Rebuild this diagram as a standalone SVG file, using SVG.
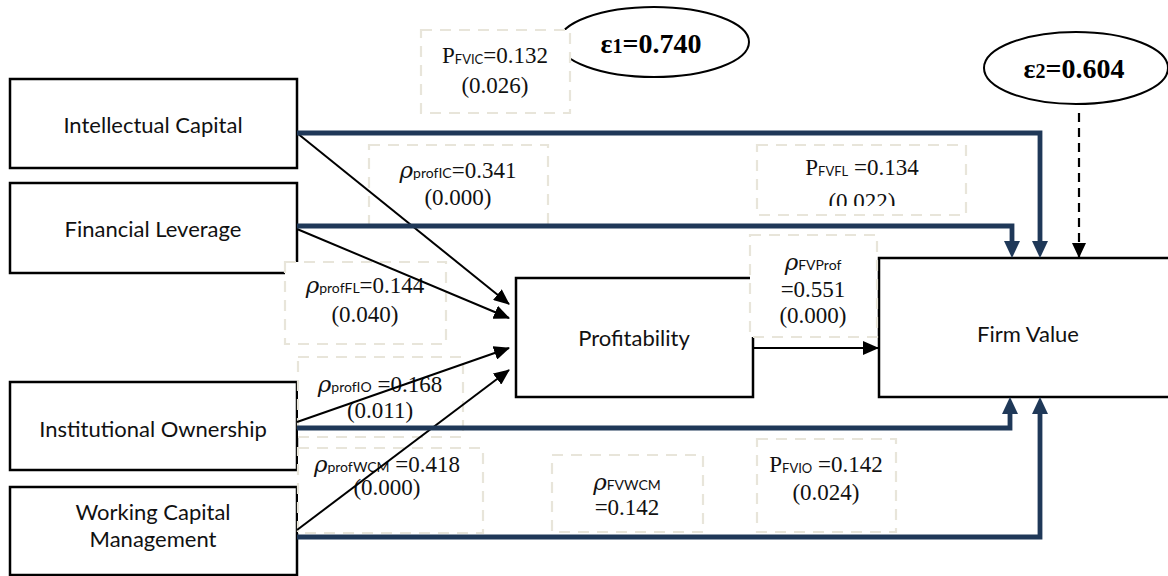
<svg xmlns="http://www.w3.org/2000/svg" width="1168" height="576" viewBox="0 0 1168 576">
<style>
.node{fill:#fff;stroke:#000;stroke-width:2.5}
.nt{font-family:Lato,"Open Sans",sans-serif;font-size:22px;fill:#111;text-anchor:middle}
.lab{fill:#fff;stroke:#e8e5da;stroke-width:2.2;stroke-dasharray:11 8}
.v{font-family:"Liberation Serif",serif;font-size:23px;fill:#111;text-anchor:middle}
.s{font-family:Lato,"Open Sans",sans-serif;font-size:13px}
.sr{font-family:Lato,"Open Sans",sans-serif;font-size:14px}
.rho{font-family:"DejaVu Serif","Liberation Serif",serif;font-style:italic;font-size:23px}
.thin{fill:none;stroke:#000;stroke-width:2;marker-end:url(#blk)}
.navy{fill:none;stroke:#1f3858;stroke-width:4.8;marker-end:url(#nav)}
.eps{fill:#fff;stroke:#000;stroke-width:2}
.et{font-family:"Liberation Serif",serif;font-weight:bold;font-size:28px;fill:#000;text-anchor:middle}
</style>
<defs>
<marker id="blk" markerUnits="userSpaceOnUse" markerWidth="16" markerHeight="14" viewBox="0 0 16 14" refX="15" refY="7" orient="auto"><path d="M0,0 L16,7 L0,14 z" fill="#000"/></marker>
<marker id="nav" markerUnits="userSpaceOnUse" markerWidth="18" markerHeight="16" viewBox="0 0 18 16" refX="0" refY="8" orient="auto"><path d="M0,0 L17,8 L0,16 z" fill="#1f3858"/></marker>
<marker id="dsh" markerUnits="userSpaceOnUse" markerWidth="15" markerHeight="14" viewBox="0 0 15 14" refX="14" refY="7" orient="auto"><path d="M0,0 L15,7 L0,14 z" fill="#000"/></marker>
<clipPath id="clipFL"><rect x="740" y="140" width="240" height="66"/></clipPath>
</defs>
<rect width="1168" height="576" fill="#fff"/>

<g id="node-ic"><rect class="node" x="10" y="79" width="287" height="89"/><text class="nt" x="153" y="133">Intellectual Capital</text></g>
<g id="node-fl"><rect class="node" x="10" y="183" width="287" height="90"/><text class="nt" x="153" y="237">Financial Leverage</text></g>
<g id="node-io"><rect class="node" x="10" y="382" width="287" height="88"/><text class="nt" x="153" y="437">Institutional Ownership</text></g>
<g id="node-wcm"><rect class="node" x="10" y="487" width="287" height="88"/><text class="nt" x="153" y="520">Working Capital</text><text class="nt" x="153" y="547">Management</text></g>
<g id="node-prof"><rect class="node" x="516" y="278" width="237" height="119"/><text class="nt" x="634" y="346">Profitability</text></g>
<g id="node-fv"><rect class="node" x="879" y="258" width="300" height="139"/><text class="nt" x="1028" y="342">Firm Value</text></g>
<g id="node-e1"><ellipse class="eps" cx="654" cy="42" rx="95" ry="35"/><text class="et" x="651" y="53">ε<tspan font-size="20">1</tspan>=0.740</text></g>
<g id="node-e2"><ellipse class="eps" cx="1076" cy="68" rx="92" ry="36"/><text class="et" x="1074" y="78">ε<tspan font-size="20">2</tspan>=0.604</text></g>

<g id="labels">
<g id="lab-fvic"><rect class="lab" x="421" y="30" width="149" height="83"/><text class="v" x="495" y="63">P<tspan class="s" dy="1">FVIC</tspan><tspan dy="-1">=0.132</tspan></text><text class="v" x="495" y="93">(0.026)</text></g>
<g id="lab-profic"><rect class="lab" x="369" y="145" width="179" height="80"/><text class="v" x="458" y="178"><tspan class="rho">ρ</tspan><tspan class="sr">profIC</tspan>=0.341</text><text class="v" x="458" y="205">(0.000)</text></g>
<g id="lab-fvfl"><rect class="lab" x="757" y="145" width="209" height="70"/><text class="v" x="862" y="175">P<tspan class="s" dy="1">FVFL</tspan><tspan dy="-1"> =0.134</tspan></text><text class="v" x="862" y="209" clip-path="url(#clipFL)">(0.022)</text></g>
<g id="lab-proffl"><rect class="lab" x="285" y="262" width="161" height="82"/><text class="v" x="365" y="293"><tspan class="rho">ρ</tspan><tspan class="sr">profFL</tspan>=0.144</text><text class="v" x="365" y="322">(0.040)</text></g>
<g id="lab-fvprof"><rect class="lab" x="750" y="235" width="127" height="102"/><text class="v" x="813" y="270"><tspan class="rho">ρ</tspan><tspan class="sr">FVProf</tspan></text><text class="v" x="813" y="297">=0.551</text><text class="v" x="813" y="323">(0.000)</text></g>
<g id="lab-profio"><rect class="lab" x="298" y="357" width="165" height="80"/><text class="v" x="380" y="392"><tspan class="rho">ρ</tspan><tspan class="sr">profIO</tspan> =0.168</text><text class="v" x="380" y="418">(0.011)</text></g>
<g id="lab-profwcm"><rect class="lab" x="298" y="448" width="185" height="85"/><text class="v" x="387" y="472"><tspan class="rho">ρ</tspan><tspan class="sr">profWCM</tspan> =0.418</text><text class="v" x="387" y="495">(0.000)</text></g>
<g id="lab-fvwcm"><rect class="lab" x="552" y="455" width="151" height="77"/><text class="v" x="627" y="490"><tspan class="rho">ρ</tspan><tspan class="sr">FVWCM</tspan></text><text class="v" x="627" y="515">=0.142</text></g>
<g id="lab-fvio"><rect class="lab" x="757" y="439" width="139" height="93"/><text class="v" x="826" y="472">P<tspan class="s" dy="1">FVIO</tspan><tspan dy="-1"> =0.142</tspan></text><text class="v" x="826" y="500">(0.024)</text></g>
</g>

<g id="connectors">
<path class="thin" d="M297,133 L509,304"/>
<path class="thin" d="M297,229 L509,318"/>
<path class="thin" d="M297,422 L509,348"/>
<path class="thin" d="M297,530 L509,370"/>
<path class="thin" d="M753,348 L878,348"/>
<path class="navy" d="M297,133 H1040 V241"/>
<path class="navy" d="M297,226 H1012 V241"/>
<path class="navy" d="M297,428 H1010 V414"/>
<path class="navy" d="M297,537 H1040 V414"/>
<path d="M1079,113 V257" fill="none" stroke="#000" stroke-width="2.2" stroke-dasharray="9 6" marker-end="url(#dsh)"/>
</g>
</svg>
